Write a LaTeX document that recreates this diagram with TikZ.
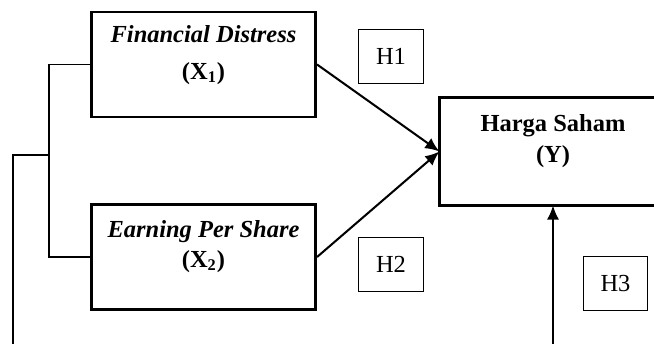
\documentclass[tikz,border=0pt]{standalone}
\usepackage{fontspec}
\setmainfont{Liberation Serif}
\usetikzlibrary{positioning, arrows.meta}

\begin{document}
\begin{tikzpicture}[x=0.49pt, y=-0.49pt, inner sep=0pt,
      font=\fontsize{12}{14.4}\selectfont,
      var/.style={rectangle, draw, line width=1.3pt, minimum width=110pt, minimum height=51.5pt},
      hyp/.style={rectangle, draw, line width=0.5pt, minimum width=31.4pt, minimum height=26pt},
      txt/.style={anchor=north, align=center, font=\fontsize{12}{14.4}\selectfont\bfseries},
      arr/.style={-{Latex[length=7pt,width=6pt]}, line width=1pt},
      link/.style={line width=0.6pt}]
      \useasboundingbox (0,0) rectangle (654,344);
      \clip (0,0) rectangle (654,344);
      % variables
      \node[var] (x1) at (203.5,64.5) {};
      \node[txt, below=7pt of x1.north] (x1txt) {\textit{Financial Distress}\\[3.7pt](X\textsubscript{1})};
      \node[var] (x2) at (203.5,257) {};
      \node[txt, below=8.5pt of x2.north] (x2txt) {\textit{Earning Per Share}\\(X\textsubscript{2})};
      \node[var, draw=none] (y) at (553,151.5) {};
      \draw[line width=1.3pt] (y.north east) -- (y.north west) -- (y.south west) -- (y.south east);
      \node[txt, below=8pt of y.north] (ytxt) {Harga Saham\\[0.8pt](Y)};
      % hypotheses
      \node[hyp] (h1) at (391,56.5) {H1};
      \node[hyp] (h2) at (391,264.5) {H2};
      \node[hyp] (h3) at (615.5,283.5) {H3};
      % paths
      \draw[arr] (x1.east) -- (y.west);
      \draw[arr] (x2.east) -- (y.west);
      \coordinate (split) at (49,155);
      \coordinate (low) at (13,360);
      \draw[link] (x1.west) -| (split) |- (x2.west);
      \draw[link] (split) -| (low);
      \draw[arr] (low) -| (y.south);
\end{tikzpicture}
\end{document}
